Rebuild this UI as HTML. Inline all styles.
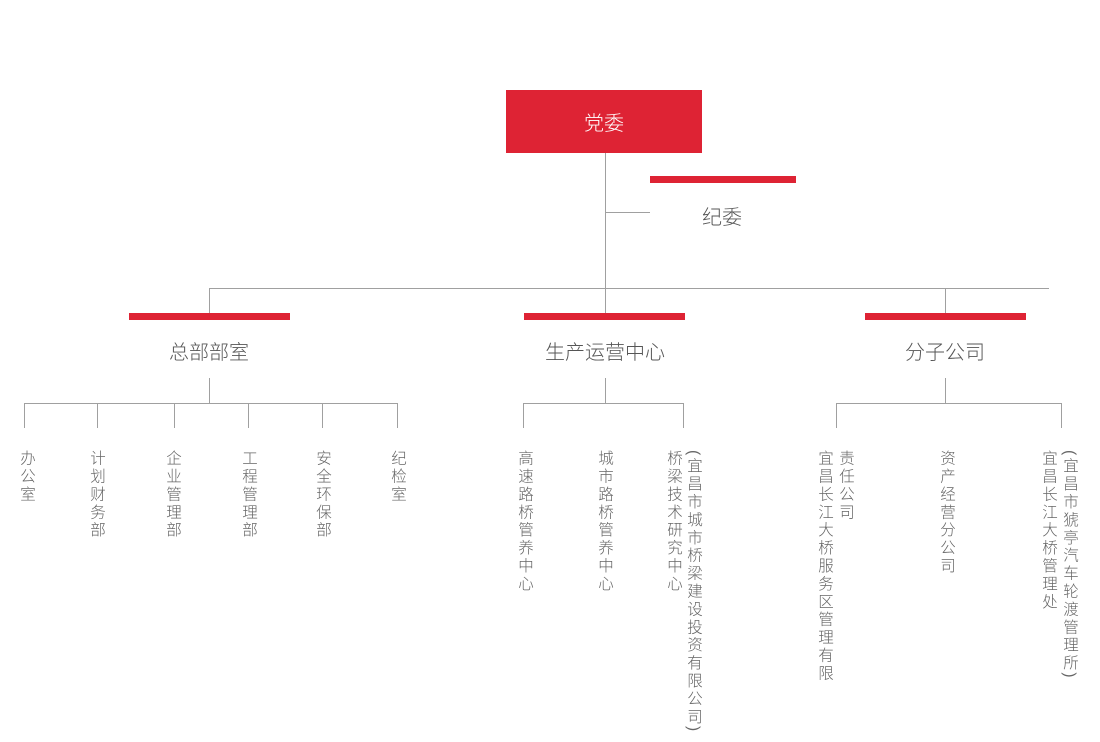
<!DOCTYPE html>
<html><head><meta charset="utf-8"><style>
body{margin:0;width:1100px;height:742px;background:#fff;position:relative;overflow:hidden;font-family:"Liberation Sans","Noto Sans CJK SC",sans-serif;}
.a{position:absolute}
.l{position:absolute;background:#a0a0a0}
.r{position:absolute;background:#de2334}
.t{position:absolute;color:#555;font-size:20px;transform:translateX(-50%);white-space:nowrap;font-weight:300}
.v{position:absolute;top:450px;writing-mode:vertical-rl;font-size:15.5px;line-height:16px;letter-spacing:2.4px;color:#666;transform:translateX(-50%);font-weight:300}
</style></head><body>
<div class="r" style="left:506px;top:90px;width:196px;height:63px"></div>
<div class="a" style="left:506px;top:107px;width:196px;text-align:center;color:#fff;font-size:20px;font-weight:300">党委</div>
<div class="l" style="left:605px;top:153px;width:1px;height:135px"></div>
<div class="l" style="left:605px;top:212px;width:45px;height:1px"></div>
<div class="r" style="left:650px;top:176px;width:146px;height:7px"></div>
<div class="t" style="left:722px;top:201px">纪委</div>
<div class="l" style="left:209px;top:288px;width:840px;height:1px"></div>
<div class="l" style="left:209px;top:288px;width:1px;height:26px"></div>
<div class="l" style="left:605px;top:288px;width:1px;height:26px"></div>
<div class="l" style="left:945px;top:288px;width:1px;height:26px"></div>
<div class="r" style="left:129px;top:313px;width:161px;height:7px"></div>
<div class="r" style="left:524px;top:313px;width:161px;height:7px"></div>
<div class="r" style="left:865px;top:313px;width:161px;height:7px"></div>
<div class="t" style="left:209px;top:336px">总部部室</div>
<div class="t" style="left:605px;top:336px">生产运营中心</div>
<div class="t" style="left:945px;top:336px">分子公司</div>
<div class="l" style="left:209px;top:378px;width:1px;height:25px"></div>
<div class="l" style="left:605px;top:378px;width:1px;height:25px"></div>
<div class="l" style="left:945px;top:378px;width:1px;height:25px"></div>
<div class="l" style="left:24px;top:403px;width:374px;height:1px"></div>
<div class="l" style="left:523px;top:403px;width:161px;height:1px"></div>
<div class="l" style="left:836px;top:403px;width:226px;height:1px"></div>
<div class="l" style="left:24px;top:403px;width:1px;height:25px"></div>
<div class="l" style="left:97px;top:403px;width:1px;height:25px"></div>
<div class="l" style="left:174px;top:403px;width:1px;height:25px"></div>
<div class="l" style="left:248px;top:403px;width:1px;height:25px"></div>
<div class="l" style="left:322px;top:403px;width:1px;height:25px"></div>
<div class="l" style="left:397px;top:403px;width:1px;height:25px"></div>
<div class="l" style="left:523px;top:403px;width:1px;height:25px"></div>
<div class="l" style="left:683px;top:403px;width:1px;height:25px"></div>
<div class="l" style="left:836px;top:403px;width:1px;height:25px"></div>
<div class="l" style="left:1061px;top:403px;width:1px;height:25px"></div>
<div class="v" style="left:26px">办公室</div>
<div class="v" style="left:96px">计划财务部</div>
<div class="v" style="left:172px">企业管理部</div>
<div class="v" style="left:248px">工程管理部</div>
<div class="v" style="left:322px">安全环保部</div>
<div class="v" style="left:397px">纪检室</div>
<div class="v" style="left:524px">高速路桥管养中心</div>
<div class="v" style="left:604px">城市路桥管养中心</div>
<div class="v" style="left:673px">桥梁技术研究中心</div>
<div class="v" style="left:693px">(宜昌市城市桥梁建设投资有限公司)</div>
<div class="v" style="left:824px">宜昌长江大桥服务区管理有限</div>
<div class="v" style="left:845px">责任公司</div>
<div class="v" style="left:946px">资产经营分公司</div>
<div class="v" style="left:1048px">宜昌长江大桥管理处</div>
<div class="v" style="left:1069px">(宜昌市猇亭汽车轮渡管理所)</div>
</body></html>
